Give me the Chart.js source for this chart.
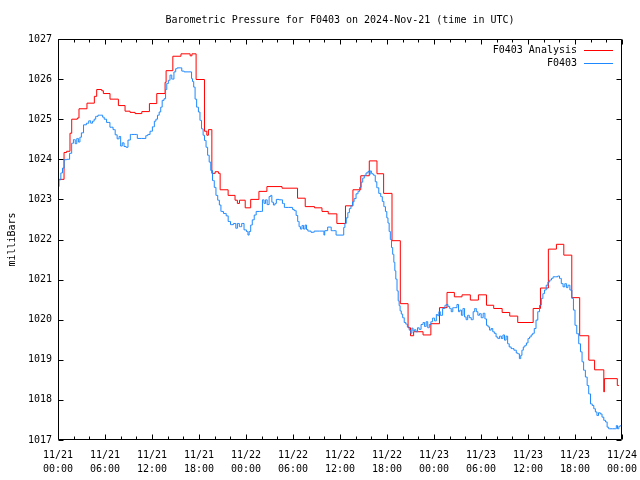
<!DOCTYPE html>
<html>
<head>
<meta charset="utf-8">
<script src="https://cdn.jsdelivr.net/npm/chart.js@4"></script>
<style>
  html, body { margin: 0; padding: 0; background: #fff; }
  #wrap { width: 640px; height: 480px; }
</style>
</head>
<body>
<div id="wrap"><canvas id="myChart"></canvas></div>
<script>
var titleText = 'Barometric Pressure for F0403 on 2024-Nov-21 (time in UTC)';
var yLabel = 'milliBars';
var redLabel = 'F0403 Analysis';
var blueLabel = 'F0403';

// x ticks: hours since 11/21 00:00 UTC, labelled every 6 h
var xTickLabels = [
    ['11/21', '00:00'], ['11/21', '06:00'], ['11/21', '12:00'], ['11/21', '18:00'],
    ['11/22', '00:00'], ['11/22', '06:00'], ['11/22', '12:00'], ['11/22', '18:00'],
    ['11/23', '00:00'], ['11/23', '06:00'], ['11/23', '12:00'], ['11/23', '18:00'],
    ['11/24', '00:00']
];

// analysis (stepped, hours / mb)
var redHours = [
    0, 0.77, 1.1, 1.53, 1.75, 2.47, 2.68, 3.7, 4.64, 4.94,
    5.58, 5.79, 6.64, 7.71, 8.56, 9.2, 9.84, 10.7, 11.67, 12.61,
    13.67, 13.8, 14.66, 15.7, 16.87, 17.1, 17.63, 18.7, 19.0, 19.2,
    19.64, 20.06, 20.48, 20.7, 21.72, 22.6, 22.9, 23.17, 23.9, 24.6,
    25.65, 26.67, 28.6, 30.58, 31.56, 32.75, 33.7, 34.5, 35.6, 36.7,
    37.65, 38.65, 39.74, 40.72, 41.57, 42.64, 43.7, 44.69, 45.0, 45.4,
    46.6, 47.6, 48.7, 49.66, 50.6, 51.58, 52.64, 53.67, 54.7, 55.62,
    56.7, 57.67, 58.69, 60.66, 61.59, 62.6, 63.63, 64.57, 65.59, 66.6,
    67.76, 68.5, 69.68, 69.75, 71.4, 71.6
];
var redValues = [
    1023.5, 1024.17, 1024.2, 1024.65, 1025.0, 1025.03, 1025.26, 1025.4, 1025.57, 1025.74,
    1025.71, 1025.64, 1025.5, 1025.34, 1025.2, 1025.17, 1025.14, 1025.19, 1025.39, 1025.64,
    1025.92, 1026.21, 1026.57, 1026.63, 1026.58, 1026.63, 1025.99, 1024.7, 1024.6, 1024.74,
    1023.65, 1023.69, 1023.65, 1023.24, 1023.1, 1022.98, 1022.9, 1022.98, 1022.79, 1023.0,
    1023.2, 1023.32, 1023.28, 1023.03, 1022.82, 1022.79, 1022.7, 1022.64, 1022.4, 1022.84,
    1023.24, 1023.59, 1023.96, 1023.64, 1023.15, 1021.97, 1020.4, 1019.8, 1019.6, 1019.7,
    1019.62, 1019.9, 1020.3, 1020.68, 1020.57, 1020.62, 1020.49, 1020.62, 1020.36, 1020.28,
    1020.18, 1020.09, 1019.93, 1020.28, 1020.79, 1021.76, 1021.88, 1021.61, 1020.55, 1019.6,
    1018.99, 1018.75, 1018.2, 1018.53, 1018.36, 1018.36
];

// station observations (hours / mb)
var blueHours = [
    0, 0.26, 0.47, 0.68, 0.9, 1.3, 1.66, 1.83, 2.1, 2.3,
    2.5, 2.7, 2.9, 3.07, 3.45, 3.8, 4.05, 4.3, 4.5, 4.73,
    4.9, 5.3, 5.6, 5.8, 6.0, 6.4, 6.86, 7.2, 7.4, 7.7,
    7.9, 8.1, 8.3, 8.56, 8.8, 9.07, 9.4, 10.05, 10.2, 11.1,
    11.33, 11.6, 11.9, 12.2, 12.4, 12.6, 12.8, 13.03, 13.2, 13.4,
    13.67, 13.8, 13.97, 14.2, 14.4, 14.65, 14.95, 15.1, 15.3, 15.6,
    16.0, 16.2, 17.0, 17.1, 17.25, 17.4, 17.6, 17.8, 18.05, 18.2,
    18.45, 18.6, 18.8, 19.0, 19.2, 19.4, 19.6, 19.85, 20.05, 20.28,
    20.5, 20.7, 20.9, 21.34, 21.6, 21.85, 22.2, 22.6, 22.8, 23.0,
    23.3, 23.6, 23.9, 24.2, 24.3, 24.5, 24.7, 24.9, 25.2, 25.4,
    26.0, 26.2, 26.4, 26.6, 26.8, 27.1, 27.2, 27.4, 27.6, 27.8,
    27.95, 28.5, 28.8, 29.0, 29.9, 30.0, 30.3, 30.5, 30.7, 30.85,
    31.05, 31.25, 31.45, 31.65, 31.8, 32.0, 32.6, 32.8, 33.9, 34.0,
    34.1, 34.75, 35.0, 35.4, 35.6, 36.4, 36.55, 36.7, 36.9, 37.1,
    37.3, 37.5, 37.7, 37.9, 38.2, 38.4, 38.6, 38.8, 39.0, 39.2,
    39.45, 39.7, 39.8, 39.9, 40.1, 40.2, 40.4, 40.6, 40.8, 41.1,
    41.3, 41.5, 41.7, 41.9, 42.05, 42.2, 42.35, 42.5, 42.65, 42.8,
    42.95, 43.05, 43.2, 43.36, 43.5, 43.6, 43.75, 43.9, 44.1, 44.3,
    44.5, 44.7, 44.98, 45.1, 45.25, 45.4, 45.6, 45.8, 46.0, 46.2,
    46.5, 46.7, 46.9, 47.1, 47.3, 47.5, 47.7, 47.95, 48.2, 48.4,
    48.55, 48.7, 48.9, 49.3, 49.5, 49.66, 49.9, 50.1, 50.3, 50.5,
    50.8, 51.06, 51.2, 51.4, 51.6, 51.8, 52.0, 52.2, 52.4, 52.6,
    52.9, 53.1, 53.3, 53.5, 53.7, 53.9, 54.15, 54.4, 54.6, 54.8,
    55.0, 55.2, 55.4, 55.6, 55.8, 56.05, 56.25, 56.5, 56.7, 56.9,
    57.1, 57.3, 57.5, 57.7, 58.0, 58.4, 58.6, 58.8, 59.0, 59.15,
    59.3, 59.5, 59.7, 59.9, 60.1, 60.3, 60.5, 60.7, 60.9, 61.15,
    61.35, 61.6, 61.8, 62.0, 62.2, 62.45, 62.65, 62.9, 63.1, 63.3,
    63.7, 63.9, 64.15, 64.35, 64.6, 64.8, 65.0, 65.2, 65.5, 65.7,
    65.9, 66.1, 66.35, 66.6, 66.8, 67.0, 67.2, 67.45, 67.65, 67.85,
    68.1, 68.3, 68.5, 68.7, 68.9, 69.1, 69.35, 69.55, 69.8, 70.0,
    70.2, 70.4, 71.2, 71.35, 71.5, 71.7, 71.85
];
var blueValues = [
    1023.32, 1023.49, 1023.66, 1023.78, 1023.99, 1024.0, 1024.15, 1024.4, 1024.49, 1024.39,
    1024.52, 1024.43, 1024.55, 1024.66, 1024.86, 1024.9, 1024.96, 1024.9, 1024.95, 1025.0,
    1025.07, 1025.1, 1025.1, 1025.05, 1025.0, 1024.92, 1024.8, 1024.74, 1024.61, 1024.51,
    1024.57, 1024.33, 1024.41, 1024.32, 1024.3, 1024.48, 1024.62, 1024.62, 1024.52, 1024.52,
    1024.59, 1024.62, 1024.7, 1024.81, 1024.95, 1025.0, 1025.1, 1025.18, 1025.3, 1025.47,
    1025.51, 1025.74, 1025.89, 1025.97, 1026.1, 1026.0, 1026.18, 1026.26, 1026.28, 1026.28,
    1026.2, 1026.18, 1026.18, 1026.01, 1025.94, 1025.8, 1025.5, 1025.3, 1025.18, 1024.97,
    1024.76, 1024.6, 1024.47, 1024.3, 1024.1, 1023.93, 1023.72, 1023.47, 1023.3, 1023.1,
    1022.98, 1022.86, 1022.7, 1022.65, 1022.59, 1022.45, 1022.37, 1022.4, 1022.28, 1022.4,
    1022.32, 1022.4, 1022.24, 1022.2, 1022.11, 1022.2, 1022.36, 1022.49, 1022.61, 1022.7,
    1022.7, 1022.99, 1022.9, 1022.99, 1022.87, 1023.07, 1023.1, 1022.93, 1022.86, 1022.9,
    1023.0, 1022.99, 1022.9, 1022.8, 1022.8, 1022.75, 1022.72, 1022.6, 1022.45, 1022.32,
    1022.26, 1022.35, 1022.26, 1022.36, 1022.25, 1022.21, 1022.18, 1022.21, 1022.21, 1022.11,
    1022.22, 1022.31, 1022.22, 1022.22, 1022.11, 1022.11, 1022.3, 1022.4, 1022.54, 1022.67,
    1022.77, 1022.84, 1022.94, 1023.02, 1023.14, 1023.2, 1023.3, 1023.43, 1023.53, 1023.6,
    1023.66, 1023.7, 1023.62, 1023.71, 1023.65, 1023.63, 1023.6, 1023.44, 1023.29, 1023.15,
    1023.07, 1022.95, 1022.82, 1022.7, 1022.54, 1022.41, 1022.2, 1022.0, 1021.8, 1021.63,
    1021.43, 1021.22, 1021.01, 1020.72, 1020.47, 1020.35, 1020.22, 1020.14, 1020.05, 1019.93,
    1019.89, 1019.82, 1019.74, 1019.66, 1019.79, 1019.72, 1019.75, 1019.7, 1019.8, 1019.76,
    1019.88, 1019.93, 1019.83, 1019.95, 1019.8, 1019.88, 1019.95, 1020.04, 1019.97, 1020.13,
    1020.1, 1020.2, 1020.11, 1020.28, 1020.36, 1020.38, 1020.33, 1020.28, 1020.2, 1020.3,
    1020.3, 1020.38, 1020.2, 1020.24, 1020.11, 1020.28, 1020.07, 1020.0, 1020.11, 1020.05,
    1020.0, 1020.2, 1020.28, 1020.2, 1020.11, 1020.15, 1020.05, 1020.16, 1020.02, 1019.86,
    1019.82, 1019.74, 1019.78, 1019.7, 1019.66, 1019.57, 1019.53, 1019.59, 1019.53, 1019.62,
    1019.49, 1019.59, 1019.4, 1019.32, 1019.28, 1019.24, 1019.17, 1019.15, 1019.03, 1019.11,
    1019.24, 1019.32, 1019.36, 1019.42, 1019.53, 1019.57, 1019.62, 1019.66, 1019.78, 1019.99,
    1020.2, 1020.36, 1020.53, 1020.65, 1020.74, 1020.86, 1020.94, 1020.99, 1021.03, 1021.07,
    1021.07, 1021.09, 1021.03, 1020.9, 1020.82, 1020.9, 1020.8, 1020.86, 1020.74, 1020.53,
    1020.24, 1019.86, 1019.65, 1019.4, 1019.2, 1018.95, 1018.74, 1018.57, 1018.36, 1018.15,
    1017.9, 1017.86, 1017.78, 1017.7, 1017.61, 1017.68, 1017.65, 1017.57, 1017.49, 1017.45,
    1017.32, 1017.28, 1017.28, 1017.36, 1017.28, 1017.34, 1017.36
];

function toPoints(xs, ys) {
    return xs.map(function (h, i) { return { x: h, y: ys[i] }; });
}

var monoFont = '"DejaVu Sans Mono", "Liberation Mono", monospace';
Chart.defaults.font.family = monoFont;
Chart.defaults.font.size = 10;
Chart.defaults.color = '#000';

// gnuplot style frame, inward ticks, title and key
var gnuFrame = {
    id: 'gnuFrame',
    afterDraw: function (chart) {
        var ctx = chart.ctx, a = chart.chartArea;
        var xs = chart.scales.x, ys = chart.scales.y;
        var L = Math.round(a.left) + 0.5, R = Math.round(a.right) - 0.5;
        var T = Math.round(a.top) + 0.5, B = Math.round(a.bottom) - 0.5;
        ctx.save();
        ctx.strokeStyle = '#000';
        ctx.lineWidth = 1;
        ctx.beginPath();
        ctx.rect(L, T, R - L, B - T);
        for (var h = 0; h <= 72; h += 2) {
            var px = Math.round(xs.getPixelForValue(h)) + 0.5;
            var len = h % 6 === 0 ? 5 : 3;
            ctx.moveTo(px, B); ctx.lineTo(px, B - len);
            ctx.moveTo(px, T); ctx.lineTo(px, T + len);
        }
        for (var v = 1017; v <= 1027; v++) {
            var py = Math.round(ys.getPixelForValue(v)) + 0.5;
            ctx.moveTo(L, py); ctx.lineTo(L + 5, py);
            ctx.moveTo(R, py); ctx.lineTo(R - 5, py);
        }
        ctx.stroke();

        ctx.fillStyle = '#000';
        ctx.font = '10px ' + monoFont;
        ctx.textBaseline = 'middle';
        ctx.textAlign = 'center';
        ctx.fillText(titleText, (a.left + a.right) / 2, 20);

        chart.data.datasets.forEach(function (ds, i) {
            var ly = 50 + i * 13;
            ctx.textAlign = 'right';
            ctx.fillStyle = '#000';
            ctx.fillText(ds.label, a.right - 45, ly);
            ctx.strokeStyle = ds.borderColor;
            ctx.beginPath();
            ctx.moveTo(a.right - 38, ly + 0.5);
            ctx.lineTo(a.right - 9, ly + 0.5);
            ctx.stroke();
        });
        ctx.restore();
    }
};

var ctx = document.getElementById('myChart').getContext('2d');
var chart = new Chart(ctx, {
    type: 'line',
    data: {
        datasets: [{
            label: redLabel,
            data: toPoints(redHours, redValues),
            borderColor: '#ff0000',
            borderWidth: 1,
            pointRadius: 0,
            stepped: 'before',
            fill: false,
            order: 1
        }, {
            label: blueLabel,
            data: toPoints(blueHours, blueValues),
            borderColor: '#1e88ff',
            borderWidth: 1,
            pointRadius: 0,
            stepped: 'middle',
            fill: false,
            order: 0
        }]
    },
    options: {
        responsive: true,
        maintainAspectRatio: false,
        animation: false,
        layout: { padding: { top: 39, right: 18, bottom: 0, left: 0 } },
        plugins: {
            legend: { display: false },
            title: { display: false },
            tooltip: { enabled: false }
        },
        scales: {
            x: {
                type: 'linear',
                min: 0,
                max: 72,
                grid: { display: false, drawTicks: false },
                border: { display: false },
                ticks: {
                    stepSize: 6,
                    autoSkip: false,
                    maxRotation: 0,
                    padding: 8,
                    font: { size: 10, lineHeight: 1.4 },
                    callback: function (value, index) { return xTickLabels[index]; }
                },
                afterFit: function (scale) {
                    scale.height = 40;
                    scale.paddingLeft = 0;
                    scale.paddingRight = 0;
                }
            },
            y: {
                min: 1017,
                max: 1027,
                grid: { display: false, drawTicks: false },
                border: { display: false },
                ticks: {
                    stepSize: 1,
                    padding: 6,
                    callback: function (value) { return String(value); }
                },
                title: {
                    display: true,
                    text: yLabel,
                    padding: { top: 6, bottom: 0 },
                    font: { size: 10 }
                },
                afterFit: function (scale) { scale.width = 58; }
            }
        }
    },
    plugins: [gnuFrame]
});
</script>
</body>
</html>
